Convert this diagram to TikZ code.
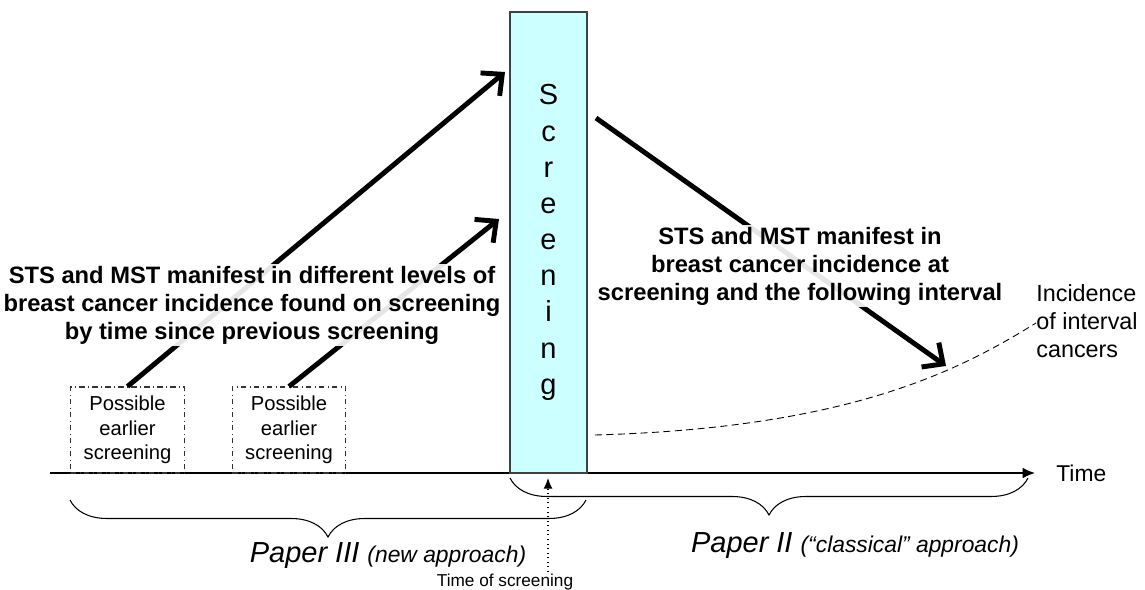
\documentclass[tikz,border=0pt]{standalone}
\usepackage{fontspec}
\setmainfont{Liberation Sans}
\usetikzlibrary{arrows.meta,decorations.pathreplacing}
\definecolor{scrfill}{HTML}{CCFFFF}
\tikzset{
  bigarrow/.style={line width=2.8pt,-{Straight Barb[length=9pt,width=17pt,line width=2.8pt]}},
  earlybox/.style={draw=black!80,dash dot,line width=0.6pt,minimum width=2.27cm,minimum height=1.72cm,inner sep=0pt,align=center,font=\fontsize{11.5}{14}\selectfont},
  boldtext/.style={align=center,inner sep=1pt,fill=white,fill opacity=0.9,text opacity=1,font=\fontsize{13.5}{16}\bfseries},
  paperbrace/.style={decorate,decoration={brace,mirror,amplitude=0.74cm,aspect=0.5},line width=0.6pt}
}
\begin{document}
\begin{tikzpicture}[x=0.02cm,y=-0.02cm]
    \useasboundingbox (0,0) rectangle (1145,590);

    \draw[line width=0.7pt,-{Latex[length=7pt,width=6pt]}] (50,473) -- (1035,473) coordinate (axisend);
    \node (time) [anchor=base west,inner sep=0pt,font=\fontsize{13}{15}\selectfont] at (1056,481) {Time};

    \node (scr) [draw=black!75,fill=scrfill,line width=0.8pt,minimum width=1.54cm,minimum height=9.22cm,inner sep=0pt,align=center,font=\fontsize{16.5}{20.6}\selectfont] at (548.5,242.5) {S\\c\\r\\e\\e\\n\\i\\n\\g};

    \node (early1) [earlybox] at (127.5,430) {Possible\\earlier\\screening};
    \node (early2) [earlybox] at (289,430) {Possible\\earlier\\screening};

    \coordinate (tipA) at (505,72);
    \coordinate (tipB) at (499,219);
    \coordinate (startC) at (596,118);
    \coordinate (tipC) at (946,366);
    \draw[bigarrow] (early1.north) -- (tipA);
    \draw[bigarrow] (early2.north) -- (tipB);
    \draw[bigarrow] (startC) -- (tipC);

	\node (leftnote) [boldtext,anchor=north] at (252,264) {STS and MST manifest in different levels of\\breast cancer incidence found on screening\\by time since previous screening};
	\node (rightnote) [boldtext,anchor=north] at (800,225) {STS and MST manifest in\\breast cancer incidence at\\screening and the following interval};

    \coordinate (curvestart) at (595,435);
    \coordinate (curveend) at (1036,323);
    \draw[dashed,dash pattern=on 4pt off 2.5pt,line width=0.5pt] (curvestart) .. controls (850,428) and (960,370) .. (curveend);
    \node (interval) [anchor=north west,inner sep=0pt,align=left,font=\fontsize{13.3}{16}\selectfont] at (1036,284) {Incidence\\of interval\\cancers};

    \draw[paperbrace] (70,500) -- (586,500);
    \draw[paperbrace] (510,478) -- (1028,478);
    \node (paper3) [anchor=base,inner sep=0pt] at (388,562) {\itshape\fontsize{16.5}{18}\selectfont Paper III \fontsize{13}{15}\selectfont(new approach)};
    \node (paper2) [anchor=base,inner sep=0pt] at (855,552) {\itshape\fontsize{16.5}{18}\selectfont Paper II \fontsize{13}{15}\selectfont(“classical” approach)};

    \node (tos) [anchor=base,inner sep=0pt,font=\fontsize{9.8}{12}\selectfont] at (505,586) {Time of screening};
    \coordinate (tosstart) at (548,572);
    \draw[dotted,line width=0.6pt,-{Latex[length=6pt,width=5pt]}] (tosstart) -- (548,478);
\end{tikzpicture}
\end{document}
